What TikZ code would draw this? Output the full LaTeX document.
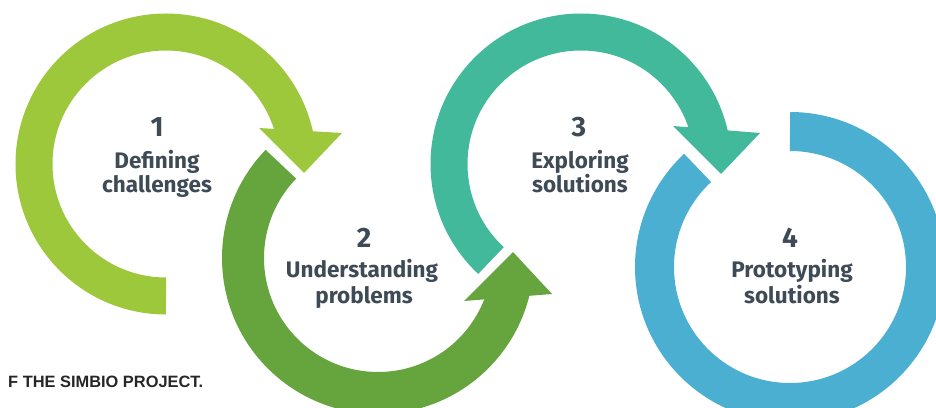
\documentclass[tikz,border=0pt]{standalone}
\usepackage{fontspec}
\setmainfont{Fira Sans}
\newfontfamily\capfont{Liberation Sans}
\definecolor{defgreen}{HTML}{9DC83C}
\definecolor{undgreen}{HTML}{66A53E}
\definecolor{expteal}{HTML}{43B99B}
\definecolor{protblue}{HTML}{4BAFD2}
\definecolor{ink}{HTML}{3E4A55}
\begin{document}
\begin{tikzpicture}[x=1pt, y=1pt,
		num/.style={font=\fontsize{28}{28}\selectfont\bfseries, text=ink, anchor=base, inner sep=0pt},
		lbl/.style={font=\fontsize{22.5}{25}\selectfont\bfseries, text=ink, anchor=base, inner sep=0pt}]
		\useasboundingbox (0,0) rectangle (936,407);
		\clip (0,0) rectangle (936,407);
		\coordinate (r1) at (166,243);
		\coordinate (r2) at (378,149);
		\coordinate (r3) at (581,243);
		\coordinate (r4) at (790,140);
		% rings, heads drawn over the ends
		\draw[defgreen, line width=37pt] (r1) ++(-90:132) arc[start angle=-90, end angle=-350, radius=132];
		\fill[defgreen] (259,279) -- (304,234) -- (342,274) -- cycle;
		\draw[undgreen, line width=42pt] (r2) ++(136:135) arc[start angle=136, end angle=350, radius=135];
		\fill[undgreen] (464,106) -- (513,155) -- (552,113) -- cycle;
		\draw[expteal, line width=37pt] (r3) ++(-133:132) arc[start angle=-133, end angle=-350, radius=132];
		\fill[expteal] (673,281) -- (721,233) -- (760,274) -- cycle;
		\draw[protblue, line width=39pt] (r4) ++(90:135.5) arc[start angle=90, end angle=-227, radius=135.5];
		% step labels
		\node[num] (s1) at (157,270) {1};
		\node[lbl] (s1a) at (157,238) {Defining};
		\node[lbl] (s1b) at (157,214) {challenges};
		\node[num] (s2) at (364,159) {2};
		\node[lbl] (s2a) at (362,129) {Understanding};
		\node[lbl] (s2b) at (364,104) {problems};
		\node[num] (s3) at (579,270) {3};
		\node[lbl] (s3a) at (580,238) {Exploring};
		\node[lbl] (s3b) at (580,214) {solutions};
		\node[num] (s4) at (790,159) {4};
		\node[lbl] (s4a) at (792,129) {Prototyping};
		\node[lbl] (s4b) at (792,104) {solutions};
		\node[font=\capfont\bfseries\fontsize{16.4}{18}\selectfont, text=black!85, anchor=base west, inner sep=0pt] (cap) at (8,20) {F THE SIMBIO PROJECT.};
\end{tikzpicture}
\end{document}
